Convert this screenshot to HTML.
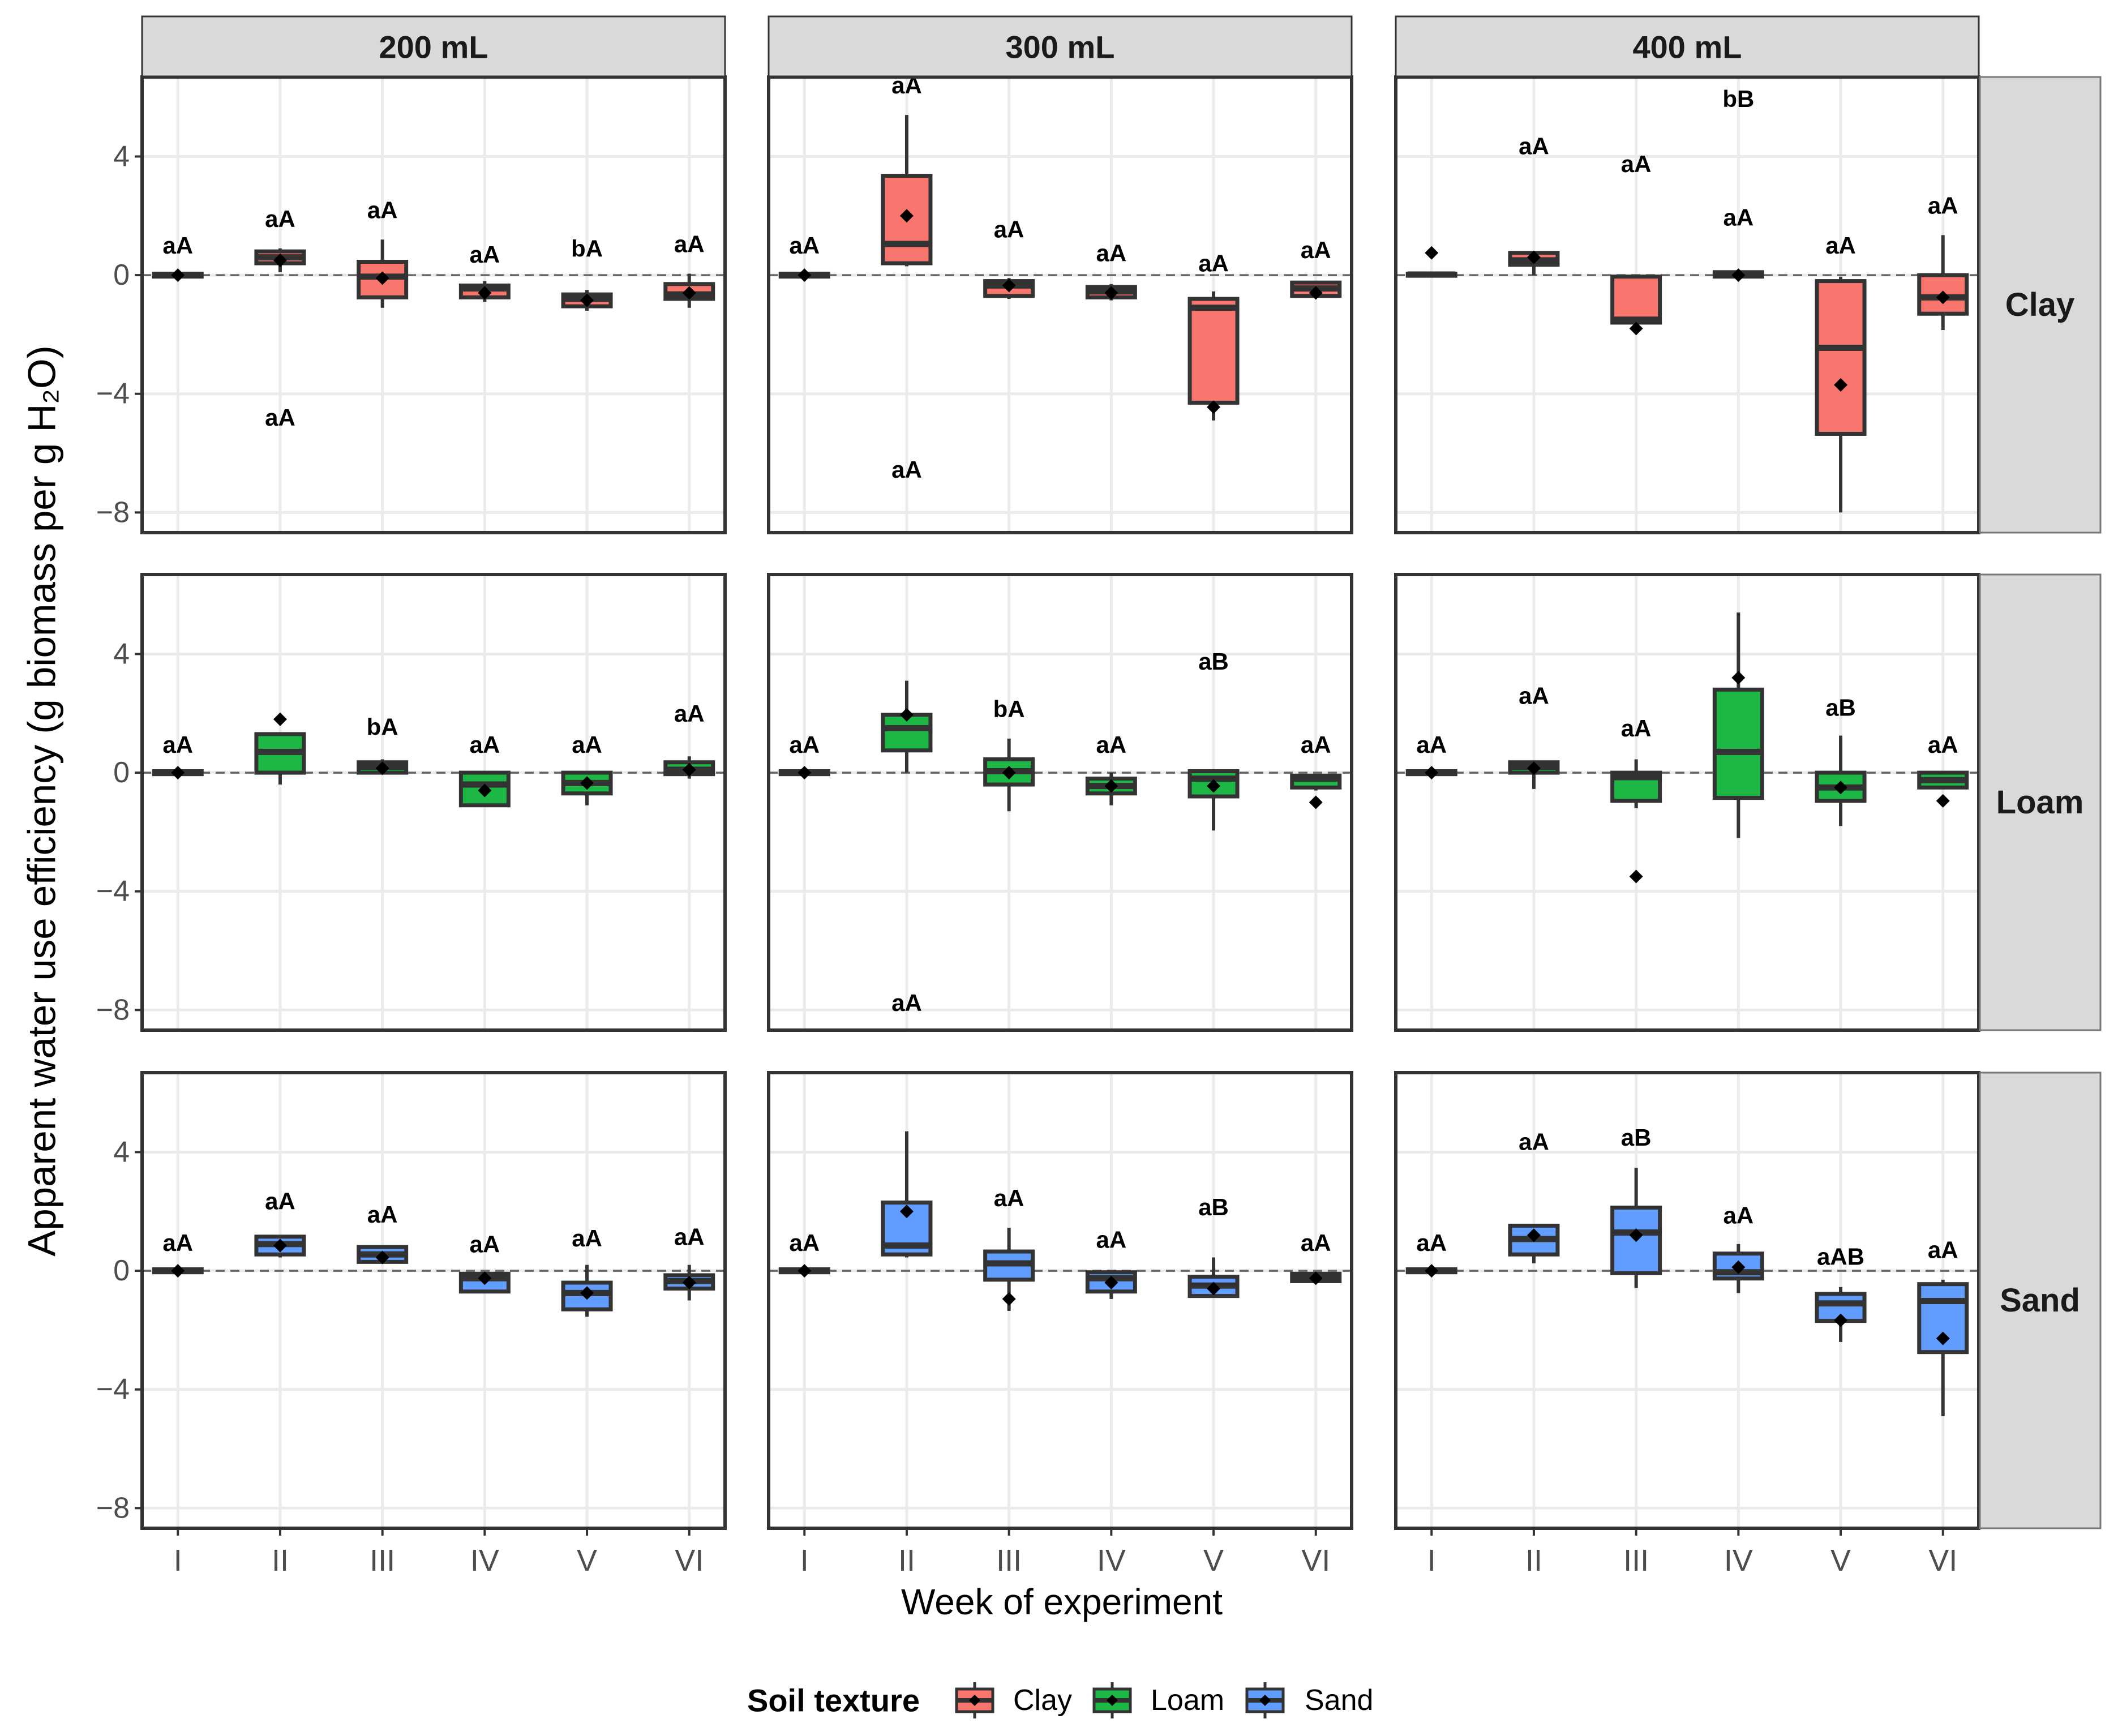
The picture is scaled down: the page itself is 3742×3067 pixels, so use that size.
<!DOCTYPE html>
<html><head><meta charset="utf-8"><style>
html,body{margin:0;padding:0;background:#fff;}
svg{display:block;font-family:"Liberation Sans",Arial,sans-serif;}
</style></head><body>
<svg id="chart" xmlns="http://www.w3.org/2000/svg" width="3742" height="3067" viewBox="0 0 3742 3067">
<rect width="3742" height="3067" fill="#fff"/>
</svg>
<script>
// ---- data (panel order: Clay 200/300/400, Loam 200/300/400, Sand 200/300/400) ----
const weeks = ["I","II","III","IV","V","VI"];
const volumes = ["200 mL","300 mL","400 mL"];
const textures = ["Clay","Loam","Sand"];
const yTicks = [4,0,-4,-8];
const tickLabels = ["4","0","\u22124","\u22128"];
const whiskerLow = [
 [-0.05,0.1,-1.1,-0.9,-1.2,-1.1],[-0.05,0.3,-0.8,-0.85,-4.9,-0.75],[-0.05,0.0,-1.6,-0.05,-8.0,-1.85],
 [-0.05,-0.4,0,-1.1,-1.1,-0.2],[-0.05,0.0,-1.3,-1.1,-1.95,-0.6],[-0.05,-0.55,-1.2,-2.2,-1.8,-0.55],
 [-0.05,0.45,0.3,-0.7,-1.55,-1.0],[-0.05,0.45,-1.35,-0.95,-0.9,-0.35],[-0.05,0.25,-0.58,-0.75,-2.4,-4.9]];
const q1 = [
 [-0.05,0.4,-0.75,-0.75,-1.05,-0.8],[-0.05,0.4,-0.7,-0.75,-4.3,-0.7],[-0.02,0.35,-1.6,-0.05,-5.35,-1.3],
 [-0.05,0.0,0.0,-1.1,-0.7,-0.05],[-0.05,0.75,-0.4,-0.7,-0.8,-0.5],[-0.05,0.0,-0.95,-0.85,-0.95,-0.5],
 [-0.05,0.55,0.3,-0.7,-1.3,-0.6],[-0.05,0.55,-0.3,-0.7,-0.85,-0.35],[-0.05,0.55,-0.08,-0.26,-1.69,-2.74]];
const medians = [
 [0,0.6,-0.05,-0.45,-0.8,-0.65],[0,1.05,-0.35,-0.55,-1.1,-0.45],[0.02,0.5,-1.5,0.02,-2.45,-0.75],
 [0,0.7,0.2,-0.4,-0.35,0.1],[0,1.5,0.05,-0.45,-0.2,-0.2],[0,0.2,-0.15,0.7,-0.5,-0.25],
 [0,0.9,0.55,-0.25,-0.75,-0.35],[0,0.85,0.25,-0.25,-0.5,-0.2],[0,1.07,1.29,-0.05,-1.1,-1.02]];
const q3 = [
 [0.05,0.8,0.45,-0.35,-0.65,-0.3],[0.05,3.35,-0.2,-0.4,-0.8,-0.25],[0.05,0.75,-0.05,0.1,-0.2,0.0],
 [0.05,1.3,0.35,0.0,0.0,0.35],[0.05,1.95,0.45,-0.2,0.05,-0.1],[0.05,0.35,0.0,2.8,0.0,0.0],
 [0.05,1.15,0.8,-0.1,-0.4,-0.15],[0.05,2.3,0.65,-0.05,-0.2,-0.1],[0.05,1.52,2.13,0.58,-0.78,-0.45]];
const whiskerHigh = [
 [0.05,0.9,1.2,-0.2,-0.5,0.05],[0.05,5.4,-0.1,-0.3,-0.55,-0.2],[0.05,0.8,-0.0,0.1,-0.05,1.35],
 [0.05,1.3,0.45,0.0,0.0,0.55],[0.05,3.1,1.15,0.0,0.05,-0.05],[0.05,0.4,0.45,5.4,1.25,0.0],
 [0.05,1.15,0.8,-0.05,0.2,0.2],[0.05,4.7,1.45,0.0,0.45,-0.1],[0.05,1.52,3.47,0.9,-0.55,-0.3]];
const means = [
 [0,0.5,-0.1,-0.6,-0.85,-0.6],[0,2.0,-0.35,-0.6,-4.45,-0.6],[0.75,0.6,-1.8,0,-3.7,-0.75],
 [0,1.8,0.15,-0.6,-0.35,0.1],[0,1.95,0,-0.45,-0.45,-1.0],[0,0.15,-3.5,3.2,-0.5,-0.95],
 [0,0.85,0.45,-0.25,-0.75,-0.4],[0,2.0,-0.95,-0.4,-0.6,-0.25],[0,1.2,1.2,0.12,-1.67,-2.28]];
// letters: [week index, text, y]
const letters = [
 [[0,"aA",1.0],[1,"aA",1.9],[1,"aA",-4.8],[2,"aA",2.2],[3,"aA",0.7],[4,"bA",0.9],[5,"aA",1.05]],
 [[0,"aA",1.0],[1,"aA",6.4],[1,"aA",-6.55],[2,"aA",1.55],[3,"aA",0.75],[4,"aA",0.4],[5,"aA",0.85]],
 [[1,"aA",4.35],[2,"aA",3.75],[3,"bB",5.95],[3,"aA",1.95],[4,"aA",1.0],[5,"aA",2.35]],
 [[0,"aA",0.95],[2,"bA",1.55],[3,"aA",0.95],[4,"aA",0.95],[5,"aA",2.0]],
 [[0,"aA",0.95],[1,"aA",-7.75],[2,"bA",2.15],[3,"aA",0.95],[4,"aB",3.75],[5,"aA",0.95]],
 [[0,"aA",0.95],[1,"aA",2.6],[2,"aA",1.5],[4,"aB",2.2],[5,"aA",0.95]],
 [[0,"aA",0.95],[1,"aA",2.35],[2,"aA",1.9],[3,"aA",0.9],[4,"aA",1.1],[5,"aA",1.15]],
 [[0,"aA",0.95],[2,"aA",2.45],[3,"aA",1.05],[4,"aB",2.15],[5,"aA",0.95]],
 [[0,"aA",0.95],[1,"aA",4.35],[2,"aB",4.5],[3,"aA",1.87],[4,"aAB",0.48],[5,"aA",0.71]]];
const fills = ["#F8766D","#1DB746","#619CFF"];

// ---- layout ----
const svg = document.getElementById('chart');
const NS = "http://www.w3.org/2000/svg";
const colL = [251,1358,2466], rowT = [136,1015,1895], PW = 1030, PH = 805;
const yMax = 6.68, yMin = -8.68;
function yS(v,r){ return rowT[r] + (yMax - v)/(yMax - yMin)*PH; }
function xS(i,c){ const step = PW/(weeks.length-1+0.7); return colL[c] + step*(0.35+i); }
function el(tag, attrs, parent){ const e=document.createElementNS(NS,tag); for(const k in attrs) e.setAttribute(k,attrs[k]); (parent||svg).appendChild(e); return e; }

for(let r=0;r<3;r++){
  for(let c=0;c<3;c++){
    const p = r*3+c;
    const g = el('g',{});
    
    
    el('rect',{x:colL[c],y:rowT[r],width:PW,height:PH,fill:'#fff'},g);
    // grid
    yTicks.forEach(v=>{ el('line',{x1:colL[c],x2:colL[c]+PW,y1:yS(v,r),y2:yS(v,r),stroke:'#EBEBEB','stroke-width':5},g); });
    weeks.forEach((w,i)=>{ el('line',{x1:xS(i,c),x2:xS(i,c),y1:rowT[r],y2:rowT[r]+PH,stroke:'#EBEBEB','stroke-width':5},g); });
    const zl = el('line',{x1:colL[c],x2:colL[c]+PW,y1:yS(0,r),y2:yS(0,r),stroke:'#666','stroke-width':3.5,'stroke-dasharray':'16 10'},g);
    
    
    // boxes
    const bw = 84;
    weeks.forEach((w,i)=>{
      const x = xS(i,c);
      const bg = el('g',{},g);
      
      
      el('line',{x1:x,x2:x,y1:yS(whiskerHigh[p][i],r),y2:yS(whiskerLow[p][i],r),stroke:'#333','stroke-width':6},bg);
      const yt = yS(q3[p][i],r), yb = yS(q1[p][i],r);
      el('rect',{x:x-bw/2,y:yt,width:bw,height:Math.max(yb-yt,1),fill:fills[r],stroke:'#333','stroke-width':7},bg);
      el('line',{x1:x-bw/2,x2:x+bw/2,y1:yS(medians[p][i],r),y2:yS(medians[p][i],r),stroke:'#333','stroke-width':11},bg);
      const my = yS(means[p][i],r);
      const d = el('path',{d:`M${x} ${my-12}L${x+12} ${my}L${x} ${my+12}L${x-12} ${my}Z`,fill:'#000'},bg);
      
      
    });
    letters[p].forEach(L=>{
      const t = el('text',{x:xS(L[0],c),y:yS(L[2],r),'text-anchor':'middle','dominant-baseline':'central','font-size':42,'font-weight':'bold',fill:'#000'},g);
      t.textContent = L[1];
      
      
    });
    el('rect',{x:colL[c],y:rowT[r],width:PW,height:PH,fill:'none',stroke:'#333','stroke-width':6},g);
    // y axis
    if(c===0){
      yTicks.forEach((v,k)=>{
        el('line',{x1:colL[c]-13,x2:colL[c],y1:yS(v,r),y2:yS(v,r),stroke:'#333','stroke-width':4},g);
        const t = el('text',{x:colL[c]-22,y:yS(v,r),'text-anchor':'end','dominant-baseline':'central','font-size':52,fill:'#4D4D4D'},g);
        t.textContent = tickLabels[k];
        
        
      });
    }
    if(r===2){
      weeks.forEach((w,i)=>{
        el('line',{x1:xS(i,c),x2:xS(i,c),y1:rowT[r]+PH,y2:rowT[r]+PH+13,stroke:'#333','stroke-width':4},g);
        const t = el('text',{x:xS(i,c),y:2757,'text-anchor':'middle','dominant-baseline':'central','font-size':54,fill:'#4D4D4D'},g);
        t.textContent = w;
        
        
      });
    }
  }
}
// top strips
volumes.forEach((v,c)=>{
  const s = el('rect',{x:colL[c],y:29,width:PW,height:106,fill:'#D9D9D9',stroke:'#333','stroke-width':3});
  
  
  const t = el('text',{x:colL[c]+PW/2,y:83,'text-anchor':'middle','dominant-baseline':'central','font-size':56,'font-weight':'bold',fill:'#1A1A1A'});
  t.textContent = v;
  
  
});
textures.forEach((tx,r)=>{
  const s = el('rect',{x:3498,y:rowT[r],width:213,height:PH,fill:'#D9D9D9',stroke:'#777','stroke-width':3});
  
  
  const t = el('text',{x:3604,y:rowT[r]+PH/2,'text-anchor':'middle','dominant-baseline':'central','font-size':58,'font-weight':'bold',fill:'#1A1A1A'});
  t.textContent = tx;
  
  
});
// axis titles
const yt = el('text',{x:0,y:0,transform:'translate(74,1415) rotate(-90)','text-anchor':'middle','dominant-baseline':'central','font-size':69,fill:'#000'});
yt.textContent = 'Apparent water use efficiency (g biomass per g H\u2082O)';


const xt = el('text',{x:1876,y:2830,'text-anchor':'middle','dominant-baseline':'central','font-size':64,fill:'#000'});
xt.textContent = 'Week of experiment';


// legend
const lg = el('g',{});


const lt = el('text',{x:1320,y:3004,'dominant-baseline':'central','font-size':56,'font-weight':'bold',fill:'#000'},lg);
lt.textContent = 'Soil texture';


const keyX = [1690,1933,2203], txtX = [1790,2033,2305];
textures.forEach((tx,k)=>{
  const kg = el('g',{},lg);
  
  
  el('line',{x1:keyX[k]+32,x2:keyX[k]+32,y1:2972,y2:3036,stroke:'#333','stroke-width':5},kg);
  el('rect',{x:keyX[k],y:2984,width:64,height:40,fill:fills[k],stroke:'#333','stroke-width':5},kg);
  el('line',{x1:keyX[k],x2:keyX[k]+64,y1:3004,y2:3004,stroke:'#333','stroke-width':8},kg);
  el('path',{d:`M${keyX[k]+32} 2994L${keyX[k]+42} 3004L${keyX[k]+32} 3014L${keyX[k]+22} 3004Z`,fill:'#000'},kg);
  const t = el('text',{x:txtX[k],y:3004,'dominant-baseline':'central','font-size':52,fill:'#000'},kg);
  t.textContent = tx;
});
</script>
</body></html>
